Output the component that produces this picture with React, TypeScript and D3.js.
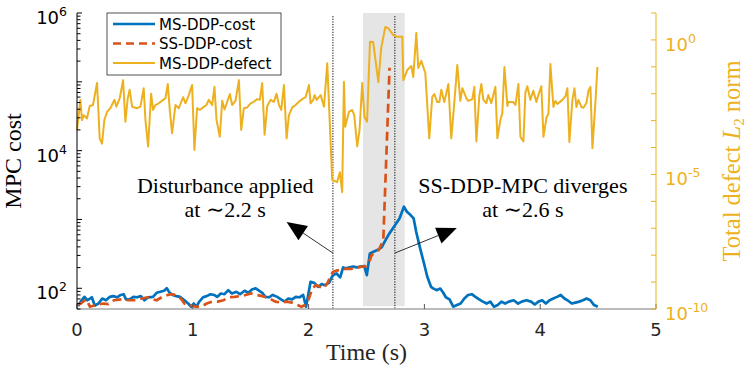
import * as d3 from "d3";

// MS-DDP MPC cost (left axis)
const msCostTime = [
  0.01, 0.032, 0.064, 0.09, 0.128, 0.154, 0.186, 0.218, 0.25, 0.282,
  0.314, 0.346, 0.378, 0.403, 0.423, 0.455, 0.487, 0.519, 0.551, 0.583,
  0.615, 0.656, 0.688, 0.72, 0.752, 0.775, 0.8, 0.826, 0.858, 0.89,
  0.928, 0.96, 0.986, 1.008, 1.031, 1.056, 1.088, 1.12, 1.152, 1.184,
  1.21, 1.242, 1.274, 1.306, 1.338, 1.376, 1.408, 1.447, 1.479, 1.511,
  1.543, 1.575, 1.6, 1.626, 1.658, 1.69, 1.729, 1.761, 1.793, 1.825,
  1.857, 1.889, 1.921, 1.953, 1.978, 2.017, 2.049, 2.081, 2.113, 2.138,
  2.177, 2.209, 2.241, 2.273, 2.298, 2.321, 2.353, 2.385, 2.417, 2.449,
  2.481, 2.503, 2.529, 2.561, 2.593, 2.631, 2.657, 2.689, 2.721, 2.753,
  2.785, 2.823, 2.849, 2.881, 2.907, 2.929, 2.961, 2.993, 3.025, 3.057,
  3.079, 3.105, 3.137, 3.163, 3.185, 3.217, 3.249, 3.281, 3.313, 3.345,
  3.377, 3.409, 3.441, 3.473, 3.505, 3.537, 3.569, 3.601, 3.633, 3.665,
  3.697, 3.729, 3.771, 3.809, 3.841, 3.88, 3.921, 3.953, 3.985, 4.017,
  4.049, 4.081, 4.113, 4.145, 4.177, 4.209, 4.241, 4.273, 4.305, 4.337,
  4.369, 4.401, 4.433, 4.465, 4.497,
];
const msCostValue = [
  55, 64, 75, 67, 74, 56, 60, 71, 67, 75,
  77, 74, 80, 82, 69, 69, 75, 74, 77, 67,
  74, 75, 86, 89, 92, 100, 86, 80, 77, 75,
  67, 60, 54, 60, 54, 64, 74, 77, 82, 80,
  75, 84, 82, 94, 84, 89, 82, 92, 86, 96,
  100, 92, 86, 75, 74, 80, 75, 69, 64, 71,
  69, 75, 74, 80, 54, 124, 120, 105, 115, 111,
  120, 155, 164, 144, 201, 195, 201, 206, 201, 206,
  210, 155, 321, 340, 359, 393, 475, 593, 717, 857,
  1036, 1531, 1295, 1158, 1036, 663, 393, 243, 147, 105,
  99, 94, 99, 86, 74, 69, 54, 57, 60, 71,
  80, 82, 75, 69, 64, 60, 64, 54, 57, 64,
  60, 64, 67, 60, 64, 67, 64, 58, 64, 67,
  60, 67, 71, 75, 80, 71, 66, 60, 62, 64,
  67, 71, 67, 57, 54,
];

// SS-DDP MPC cost (left axis)
const ssCostTime = [
  0.01, 0.032, 0.08, 0.112, 0.16, 0.224, 0.272, 0.32, 0.384, 0.448,
  0.512, 0.56, 0.608, 0.656, 0.688, 0.736, 0.784, 0.816, 0.848, 0.896,
  0.928, 0.976, 1.024, 1.072, 1.12, 1.168, 1.216, 1.264, 1.312, 1.36,
  1.408, 1.456, 1.504, 1.553, 1.6, 1.633, 1.665, 1.713, 1.761, 1.809,
  1.857, 1.905, 1.937, 1.969, 2.0, 2.033, 2.065, 2.097, 2.129, 2.161,
  2.193, 2.209, 2.241, 2.273, 2.321, 2.369, 2.417, 2.465, 2.497, 2.529,
  2.545, 2.577, 2.609, 2.645, 2.699,
];
const ssCostValue = [
  58, 60, 69, 54, 57, 60, 59, 67, 69, 67,
  67, 71, 74, 69, 67, 75, 80, 82, 80, 71,
  60, 57, 54, 54, 60, 64, 64, 67, 74, 75,
  77, 80, 84, 80, 77, 74, 71, 64, 62, 64,
  62, 57, 54, 57, 69, 100, 111, 105, 100, 117,
  155, 172, 181, 185, 192, 192, 201, 206, 210, 257,
  304, 329, 367, 500, 160000,
];

// MS-DDP total defect L2 norm (right axis)
const defectTime = [
  0, 0.029, 0.043, 0.058, 0.086, 0.11, 0.138, 0.173, 0.196, 0.216,
  0.236, 0.259, 0.288, 0.323, 0.34, 0.369, 0.398, 0.418, 0.438, 0.455,
  0.476, 0.519, 0.548, 0.576, 0.591, 0.614, 0.64, 0.657, 0.677, 0.706,
  0.744, 0.764, 0.784, 0.801, 0.821, 0.85, 0.879, 0.916, 0.937, 0.965,
  0.994, 1.014, 1.037, 1.06, 1.089, 1.118, 1.138, 1.167, 1.187, 1.205,
  1.233, 1.254, 1.274, 1.297, 1.32, 1.34, 1.369, 1.398, 1.418, 1.441,
  1.47, 1.499, 1.527, 1.556, 1.579, 1.599, 1.62, 1.643, 1.671, 1.7,
  1.723, 1.744, 1.764, 1.787, 1.81, 1.83, 1.859, 1.888, 1.916, 1.945,
  1.974, 2.003, 2.017, 2.04, 2.052, 2.069, 2.104, 2.133, 2.161, 2.204,
  2.247, 2.27, 2.29, 2.305, 2.316, 2.348, 2.376, 2.394, 2.42, 2.44,
  2.463, 2.482, 2.505, 2.53, 2.558, 2.602, 2.627, 2.662, 2.688, 2.731,
  2.766, 2.809, 2.818, 2.852, 2.887, 2.904, 2.93, 2.947, 2.973, 3.008,
  3.042, 3.068, 3.086, 3.111, 3.129, 3.146, 3.172, 3.207, 3.232, 3.258,
  3.284, 3.31, 3.328, 3.362, 3.379, 3.414, 3.431, 3.449, 3.474, 3.492,
  3.509, 3.535, 3.552, 3.578, 3.613, 3.63, 3.656, 3.673, 3.691, 3.717,
  3.725, 3.768, 3.786, 3.812, 3.829, 3.855, 3.872, 3.889, 3.915, 3.941,
  3.967, 3.984, 4.01, 4.028, 4.054, 4.071, 4.088, 4.114, 4.131, 4.149,
  4.192, 4.218, 4.235, 4.252, 4.278, 4.296, 4.313, 4.33, 4.356, 4.373,
  4.399, 4.417, 4.434, 4.451, 4.477, 4.494,
];
const defectValue = [
  4.5e-4, 5.9e-3, 1.05e-3, 1.6e-3, 1.2e-3, 3.5e-3, 3.8e-3, 2.5e-2, 2.2e-4, 1.4e-4,
  1.05e-3, 2.1e-3, 2.9e-3, 5.9e-3, 3.3e-3, 6.8e-3, 3.2e-2, 9.1e-4, 6.8e-3, 1.4e-2,
  3.3e-3, 2.9e-3, 3.3e-3, 1.6e-2, 1.05e-3, 1.1e-4, 1.0e-2, 2.5e-3, 3.8e-3, 4.4e-3,
  5.9e-3, 6.8e-3, 2.3e-2, 2.5e-3, 3.4e-4, 3.8e-3, 2.9e-3, 7.4e-3, 4.4e-3, 8.9e-3,
  2.1e-2, 8.1e-5, 2.9e-3, 2.5e-3, 3.1e-3, 3.8e-3, 5.9e-3, 3.8e-3, 1.8e-2, 1.05e-3,
  2.5e-4, 5.5e-3, 2.6e-3, 5.0e-3, 9.8e-3, 3.8e-3, 5.5e-3, 3.2e-2, 4.5e-4, 2.9e-3,
  3.1e-3, 4.4e-3, 5.0e-3, 6.3e-3, 5.9e-3, 2.5e-2, 3.0e-4, 3.5e-3, 5.9e-3, 5.0e-3,
  1.0e-2, 3.8e-3, 2.5e-3, 2.1e-2, 2.2e-4, 1.6e-3, 3.1e-3, 3.8e-3, 5.0e-3, 6.3e-3,
  7.4e-3, 2.1e-2, 4.4e-3, 5.9e-3, 8.9e-3, 5.9e-3, 8.9e-3, 3.3e-3, 1.35e-1, 6.2e-6,
  5.2e-6, 1.2e-5, 2.2e-6, 2.8e-2, 5.9e-4, 2.1e-3, 2.5e-3, 1.6e-3, 1.1e-4, 4.5e-4,
  2.5e-2, 1.4e-3, 9.1e-4, 0.85, 0.83, 2.7e-2, 0.5, 3.0, 2.75, 1.5,
  1.3, 1.3, 3.2e-2, 7.6e-2, 0.107, 4.2e-2, 1.8, 9.1e-2, 0.166, 5.9e-2,
  2.2e-4, 7.6e-3, 9.8e-3, 4.9e-3, 4.9e-3, 1.4e-2, 4.9e-3, 2.3e-2, 2.2e-4, 4.5e-3,
  0.117, 5.4e-3, 1.6e-2, 6.9e-3, 5.4e-3, 6.3e-3, 1.8e-2, 1.7e-4, 8.1e-3, 2.3e-2,
  5.9e-3, 4.5e-3, 8.9e-3, 4.5e-3, 1.8e-2, 2.2e-4, 1.05e-3, 1.9e-3, 9.8e-2, 3.5e-3,
  4.9e-3, 4.9e-3, 3.8e-3, 2.3e-2, 2.5e-4, 1.7e-4, 1.1e-2, 1.9e-2, 5.9e-3, 1.3e-2,
  4.9e-3, 8.9e-3, 1.9e-2, 2.5e-4, 1.3e-3, 1.8e-3, 0.126, 3.2e-3, 5.4e-3, 4.2e-3,
  5.9e-3, 8.1e-3, 1.6e-2, 1.6e-4, 5.9e-3, 1.6e-2, 3.2e-3, 5.9e-3, 3.2e-3, 3.0e-3,
  4.5e-3, 1.3e-2, 1.8e-2, 9.5e-5, 4.9e-3, 9.8e-2,
];

const xTicks = [0, 1, 2, 3, 4, 5];
const leftLabelExps = [2, 4, 6];
const rightTickExps = [-10, -9, -8, -7, -6, -5, -4, -3, -2, -1, 0, 1];
const rightLabelExps = [0, -5, -10];

// events: disturbance + divergence markers, shaded window
const eventTimes = [2.21, 2.745];
const shadeWindow = [2.47, 2.83];

const notes = [
  { lines: ["Disturbance applied", "at \u223C2.2 s"], t: 1.28, v: [2420, 1084], tail: [2.21, 325], tip: [1.81, 920] },
  { lines: ["SS-DDP-MPC diverges", "at \u223C2.6 s"], t: 3.85, v: [2420, 1084], tail: [2.745, 325], tip: [3.28, 750] },
];

const legendItems = [
  { label: "MS-DDP-cost", color: "#0072BD", dash: "none", width: 2.7 },
  { label: "SS-DDP-cost", color: "#D95319", dash: "8 5", width: 2.7 },
  { label: "MS-DDP-defect", color: "#EDB120", dash: "none", width: 2 },
];

const W = 747;
const H = 369;
const plot = { left: 77, right: 656, top: 13, bottom: 309 };
const SANS = "'DejaVu Sans', sans-serif";
const SERIF = "'Liberation Serif', 'DejaVu Serif', serif";

function Pow10({ x, y, exp, anchor, fill }: any) {
  return (
    <text x={x} y={y} textAnchor={anchor} fill={fill} fontFamily={SANS} fontSize={18}>
      <tspan>10</tspan>
      <tspan dy={-8} fontSize={12.5}>{exp}</tspan>
    </text>
  );
}

function Arrow({ from, to }: any) {
  const [x0, y0] = from;
  const [x1, y1] = to;
  const len = Math.hypot(x1 - x0, y1 - y0);
  const ux = (x1 - x0) / len;
  const uy = (y1 - y0) / len;
  const hl = 20;
  const hw = 8.5;
  const bx = x1 - ux * hl;
  const by = y1 - uy * hl;
  const pts = [
    [x1, y1],
    [bx - uy * hw, by + ux * hw],
    [bx + uy * hw, by - ux * hw],
  ];
  return (
    <g>
      <line x1={x0} y1={y0} x2={bx} y2={by} stroke="#000" strokeWidth={0.8} />
      <polygon points={pts.map((p) => p.join(",")).join(" ")} fill="#000" />
    </g>
  );
}

export default function App() {
  const x = d3.scaleLinear().domain([0, 5]).range([plot.left, plot.right]);
  const yL = d3.scaleLog().domain([50, 1e6]).range([plot.bottom, plot.top]);
  const yR = d3.scaleLog().domain([1e-10, 10]).range([plot.bottom, plot.top]);

  const ms = d3.zip(msCostTime, msCostValue);
  const ss = d3.zip(ssCostTime, ssCostValue);
  const defect = d3.zip(defectTime, defectValue);

  const costLine = d3
    .line<number[]>()
    .x((d) => x(d[0]))
    .y((d) => yL(d[1]));
  const defectLine = d3
    .line<number[]>()
    .x((d) => x(d[0]))
    .y((d) => yR(d[1]));

  const leftTicks = yL.ticks().filter((v) => v >= 50 && v <= 1e6);
  const isMajor = (v: number) => Math.abs(Math.log10(v) - Math.round(Math.log10(v))) < 1e-9;

  return (
    <svg
      width={W}
      height={H}
      viewBox={`0 0 ${W} ${H}`}
      style={{ position: "absolute", left: 0, top: 0, background: "#fff" }}
    >
      {/* shaded window */}
      <rect
        x={x(shadeWindow[0])}
        y={yL(1e6)}
        width={x(shadeWindow[1]) - x(shadeWindow[0])}
        height={yL(55) - yL(1e6)}
        fill="#e5e5e5"
      />
      {/* event markers */}
      {eventTimes.map((t, i) => (
        <line
          key={i}
          x1={x(t)}
          x2={x(t)}
          y1={yL(9e5)}
          y2={yL(51)}
          stroke="#000"
          strokeWidth={1}
          strokeDasharray="1.2 1.4"
        />
      ))}

      <path d={costLine(ms) ?? ""} fill="none" stroke="#0072BD" strokeWidth={2.7} strokeLinejoin="round" />
      <path d={costLine(ss) ?? ""} fill="none" stroke="#D95319" strokeWidth={2.7} strokeDasharray="9 5" />
      <path d={defectLine(defect) ?? ""} fill="none" stroke="#EDB120" strokeWidth={2} strokeLinejoin="round" />

      {/* x axis */}
      <line x1={plot.left} x2={plot.right} y1={plot.bottom} y2={plot.bottom} stroke="#7a7a7a" strokeWidth={1} />
      {xTicks.map((t) => (
        <g key={t}>
          <line x1={x(t)} x2={x(t)} y1={plot.bottom} y2={plot.bottom - 5} stroke="#555" strokeWidth={1} />
          <text x={x(t)} y={336} textAnchor="middle" fontFamily={SANS} fontSize={18} fill="#262626">
            {t}
          </text>
        </g>
      ))}
      <text x={(plot.left + plot.right) / 2} y={360} textAnchor="middle" fontFamily={SERIF} fontSize={24} fill="#262626">
        Time (s)
      </text>

      {/* left axis */}
      <line x1={plot.left} x2={plot.left} y1={plot.top} y2={plot.bottom} stroke="#000" strokeWidth={1} />
      {leftTicks.map((v, i) => (
        <line
          key={i}
          x1={plot.left}
          x2={plot.left + (isMajor(v) ? 5 : 3.5)}
          y1={yL(v)}
          y2={yL(v)}
          stroke="#000"
          strokeWidth={1}
        />
      ))}
      {leftLabelExps.map((e) => (
        <Pow10 key={e} x={67} y={yL(10 ** e) + 11} exp={e} anchor="end" fill="#000" />
      ))}
      <text
        transform={`translate(21, ${(plot.top + plot.bottom) / 2}) rotate(-90)`}
        textAnchor="middle"
        fontFamily={SERIF}
        fontSize={24}
        fill="#000"
      >
        MPC cost
      </text>

      {/* right axis */}
      <line x1={plot.right} x2={plot.right} y1={plot.top} y2={plot.bottom} stroke="#EDB120" strokeWidth={1} />
      {rightTickExps.map((e) => (
        <line
          key={e}
          x1={plot.right}
          x2={plot.right - 5}
          y1={yR(10 ** e)}
          y2={yR(10 ** e)}
          stroke="#EDB120"
          strokeWidth={1}
        />
      ))}
      {rightLabelExps.map((e) => (
        <Pow10 key={e} x={665} y={yR(10 ** e) + 11} exp={e} anchor="start" fill="#EDB120" />
      ))}
      <text
        transform={`translate(740, ${(plot.top + plot.bottom) / 2}) rotate(-90)`}
        textAnchor="middle"
        fontFamily={SERIF}
        fontSize={24.5}
        fill="#EDB120"
      >
        <tspan>Total defect </tspan>
        <tspan fontStyle="italic">L</tspan>
        <tspan fontSize={15} dy={4}>2</tspan>
        <tspan dy={-4}> norm</tspan>
      </text>

      {/* annotations */}
      {notes.map((n, i) => (
        <g key={i}>
          {n.lines.map((s, j) => (
            <text key={j} x={x(n.t)} y={yL(n.v[j])} textAnchor="middle" fontFamily={SERIF} fontSize={22} fill="#000">
              {s}
            </text>
          ))}
          <Arrow from={[x(n.tail[0]), yL(n.tail[1])]} to={[x(n.tip[0]), yL(n.tip[1])]} />
        </g>
      ))}

      {/* legend */}
      <rect x={107} y={13} width={174} height={62} fill="#fff" stroke="#262626" strokeWidth={0.8} />
      {legendItems.map((it, i) => {
        const ly = 24 + i * 19.5;
        return (
          <g key={it.label}>
            <line
              x1={113}
              x2={155}
              y1={ly}
              y2={ly}
              stroke={it.color}
              strokeWidth={it.width}
              strokeDasharray={it.dash}
            />
            <text x={159} y={ly + 5.5} fontFamily={SANS} fontSize={15} fill="#000">
              {it.label}
            </text>
          </g>
        );
      })}
    </svg>
  );
}
